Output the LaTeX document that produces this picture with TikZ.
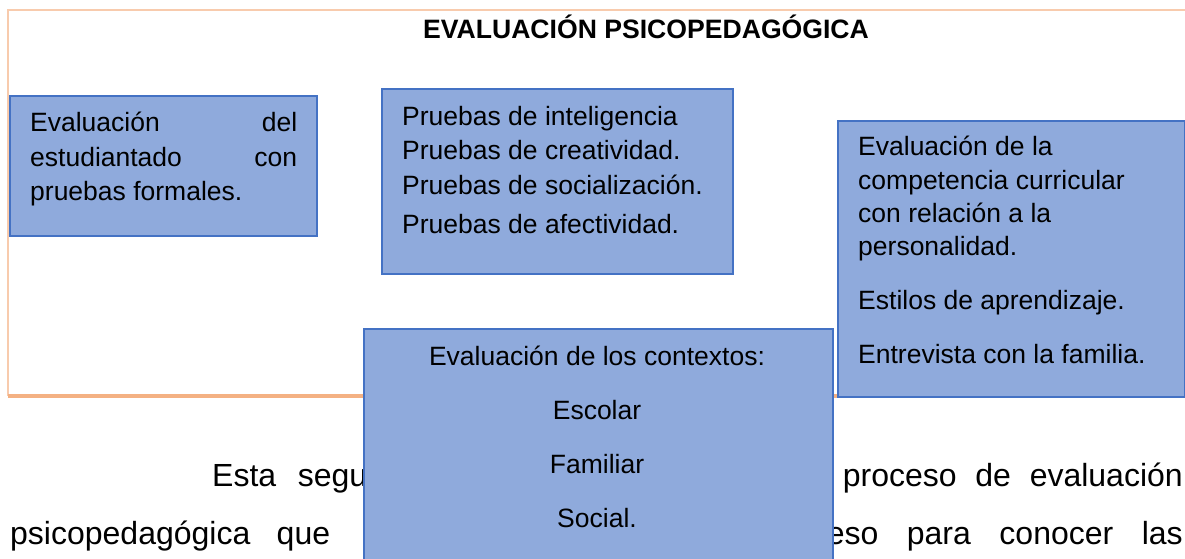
\documentclass[tikz,border=0pt]{standalone}
\usepackage{fontspec}
\setmainfont{Liberation Sans}
\usetikzlibrary{positioning}
\definecolor{boxfill}{HTML}{8FAADC}
\definecolor{boxline}{HTML}{4472C4}
\definecolor{framelight}{HTML}{F8CBAD}
\definecolor{frameline}{HTML}{F4B183}
\tikzset{cell/.style={rectangle, draw=boxline, fill=boxfill, line width=1.8pt,
   anchor=north west, inner sep=0pt}}
\tikzset{lines/.style={anchor=north west, inner sep=0pt, align=left,
   font=\fontsize{26.5}{34.5}\selectfont}}
\tikzset{body/.style={inner sep=0pt, anchor=base west,
   font=\fontsize{32}{40}\selectfont}}

\begin{document}
\begin{tikzpicture}[x=1pt,y=-1pt]

    \useasboundingbox (0,0) rectangle (1185,559);

    % text of the page behind the boxes
    \node[body] (p1) at (212,486) {\makebox[155pt][s]{Esta segu}};
    \node[body, anchor=base east] (p2) at (1183,486) {\makebox[340pt][s]{proceso de evaluación}};
    \node[body] (p3) at (10,544) {\makebox[320pt][s]{psicopedagógica que}};
    \node[body, anchor=base east] (p4) at (1183,544) {\makebox[356pt][s]{eso para conocer las}};

    % frame
    \draw[framelight, line width=1.5pt] (1185,10) -- (8,10) -- (8,396);
    \draw[frameline, line width=4pt] (8,396) -- (837,396);

    \node[font=\bfseries\fontsize{26.6}{30}\selectfont, inner sep=0pt] (title) at (646,27)
      {EVALUACIÓN PSICOPEDAGÓGICA};

    \node[cell, minimum width=307pt, minimum height=140pt] (formal) at (9,95) {};
    \node[lines] (formaltxt) at (30,112)
      {\makebox[267pt][s]{Evaluación del}\\
       \makebox[267pt][s]{estudiantado con}\\
       pruebas formales.};

    \node[cell, minimum width=351pt, minimum height=185pt] (tests) at (381,88) {};
    \node[lines] (teststxt) at (402,106)
      {Pruebas de inteligencia\\
       Pruebas de creatividad.\\
       Pruebas de socialización.\\[4.5pt]
       Pruebas de afectividad.};

    \node[cell, minimum width=347pt, minimum height=276pt] (curric) at (837,120) {};
    \node[lines, font=\fontsize{26.5}{33.3}\selectfont] (currictxt) at (858,136)
      {Evaluación de la\\
       competencia curricular\\
       con relación a la\\
       personalidad.\\[20.5pt]
       Estilos de aprendizaje.\\[20.5pt]
       Entrevista con la familia.};

    \node[cell, minimum width=469pt, minimum height=240pt] (context) at (363,328) {};
    \node[lines, anchor=north, align=center, font=\fontsize{26.5}{33}\selectfont] (contexttxt) at (597,346)
      {Evaluación de los contextos:\\[21pt]
       Escolar\\[21pt]
       Familiar\\[21pt]
       Social.};

\end{tikzpicture}
\end{document}
